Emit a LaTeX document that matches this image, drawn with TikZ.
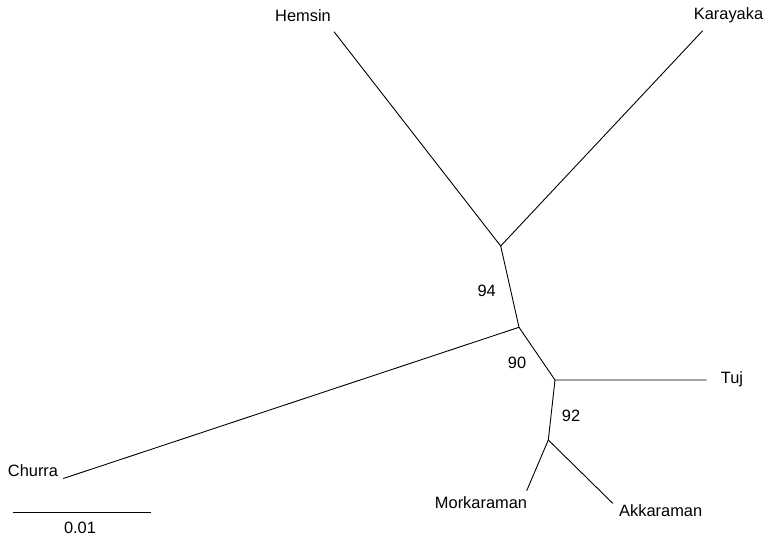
\documentclass[tikz,border=0pt]{standalone}
\usepackage{fontspec}
\setmainfont{Liberation Sans}
\begin{document}
\begin{tikzpicture}[x=1pt,y=-1pt,line width=0.9pt,
  taxon/.style={anchor=base,inner sep=0pt,font=\fontsize{16.4}{19}\selectfont},
  boot/.style={taxon}]
\useasboundingbox (0,0) rectangle (766,537);
% inner nodes of the tree
\coordinate (nA) at (500.7,246);
\coordinate (nB) at (519,327.3);
\coordinate (nC) at (555,380);
\coordinate (nD) at (548.3,440);
% tips
\coordinate (tHemsin) at (334,31.7);
\coordinate (tKarayaka) at (702.7,30.7);
\coordinate (tTuj) at (706.7,380);
\coordinate (tChurra) at (63.3,478.5);
\coordinate (tMorkaraman) at (526.7,490.7);
\coordinate (tAkkaraman) at (612.7,503.3);
\coordinate (sL) at (12.7,512.7);
\coordinate (sR) at (150.7,512.7);
% labels
\node[taxon] (hemsin) at (303,21.7) {Hemsin};
\node[taxon] (karayaka) at (728.5,20) {Karayaka};
\node[taxon] (tuj) at (732,383.4) {Tuj};
\node[taxon] (churra) at (33,476.7) {Churra};
\node[taxon] (morkaraman) at (481,508.3) {Morkaraman};
\node[taxon] (akkaraman) at (660.7,516.7) {Akkaraman};
\node[taxon] (scale) at (80,533.3) {0.01};
\node[boot] (b94) at (486.7,296.7) {94};
\node[boot] (b90) at (517,368.3) {90};
\node[boot] (b92) at (571,421.7) {92};
% branches
\draw (tHemsin) -- (nA) -- (tKarayaka);
\draw (nA) -- (nB) -- (tChurra);
\draw (nB) -- (nC) -- (tTuj);
\draw (nC) -- (nD) -- (tMorkaraman);
\draw (nD) -- (tAkkaraman);
\draw (sL) -- (sR);
\end{tikzpicture}
\end{document}
